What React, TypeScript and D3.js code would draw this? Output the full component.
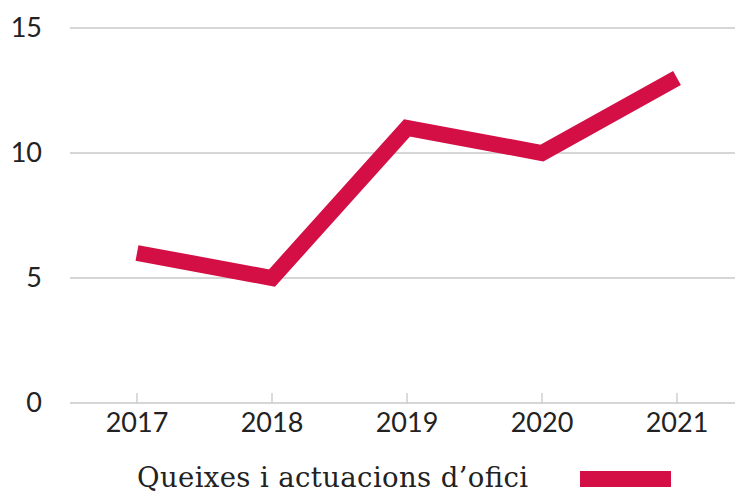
import React from "react";
import * as d3 from "d3";

const years = ["2017", "2018", "2019", "2020", "2021"];
const values = [6, 5, 11, 10, 13];
const yTicks = [0, 5, 10, 15];
const seriesName = "Queixes i actuacions d’ofici";

const W = 735;
const H = 494;
const color = "#d30f45";

export default function App() {
  const x = d3.scalePoint<string>().domain(years).range([137, 677]);
  const y = d3.scaleLinear().domain([0, 15]).range([403, 28]);
  const line = d3
    .line<number>()
    .x((_, i) => x(years[i]) as number)
    .y((d) => y(d));
  return (
    <svg
      width={W}
      height={H}
      style={{ position: "absolute", left: 0, top: 0, background: "#fff" }}
    >
      {yTicks.map((t) => (
        <g key={t}>
          <line x1={70} x2={735} y1={y(t)} y2={y(t)} stroke="#c8c8c8" strokeWidth={1.3} />
          <text
            x={42}
            y={y(t) + 8.5}
            textAnchor="end"
            fontFamily="Lato, sans-serif"
            fontSize={27}
            fill="#222"
          >
            {t}
          </text>
        </g>
      ))}
      {years.map((yr) => (
        <g key={yr}>
          <line x1={x(yr)} x2={x(yr)} y1={y(0)} y2={y(0) - 10} stroke="#c8c8c8" strokeWidth={1.3} />
          <text
            x={x(yr)}
            y={432}
            textAnchor="middle"
            fontFamily="Lato, sans-serif"
            fontSize={27}
            fill="#222"
          >
            {yr}
          </text>
        </g>
      ))}
      <path d={line(values) || ""} fill="none" stroke={color} strokeWidth={16} strokeLinejoin="miter" />
      <text
        x={137}
        y={487}
        fontFamily="DejaVu Serif, serif"
        fontSize={27.5}
        textLength={391}
        lengthAdjust="spacing"
        fill="#222"
      >
        {seriesName}
      </text>
      <rect x={580} y={471} width={91} height={16} fill={color} />
    </svg>
  );
}
